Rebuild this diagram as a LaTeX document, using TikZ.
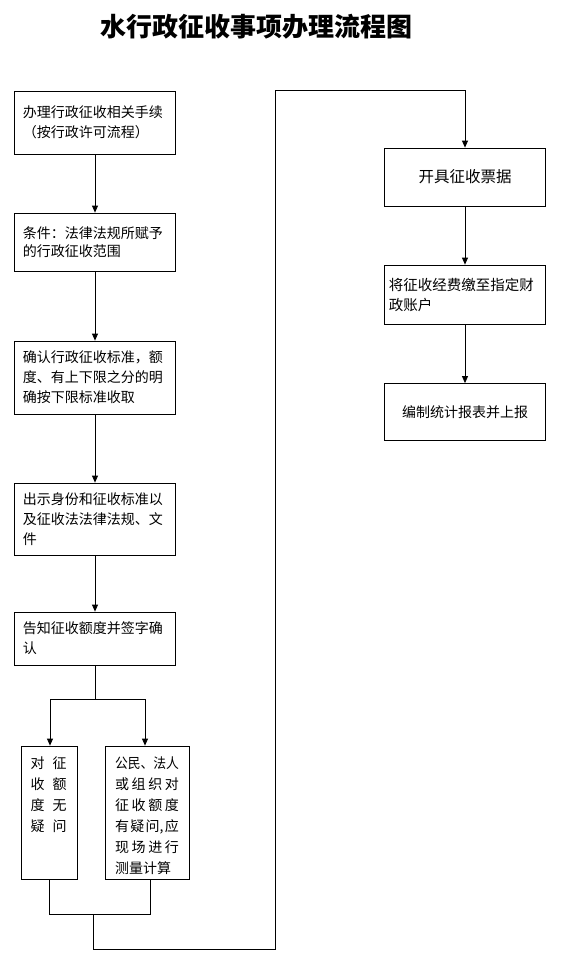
\documentclass[tikz,border=0pt]{standalone}
\usepackage{fontspec}
\usepackage{graphicx}
\setmainfont{Noto Sans CJK SC}
\usetikzlibrary{arrows.meta}
\begin{document}
\begin{tikzpicture}[x=1pt,y=-1pt,line width=0.8pt,
  arr/.style={-{Triangle[length=7pt,width=6pt]}},
  box/.style={draw,line width=0.8pt,inner ysep=0pt,font=\fontsize{14pt}{20pt}\selectfont},
  lbox/.style={box,text width=144pt,inner xsep=8.7pt,align=left},
  rbox/.style={box,minimum width=160.3pt,align=center},
  sbox/.style={draw,line width=0.8pt,inner sep=0pt,font=\fontsize{14pt}{21pt}\selectfont}]
\useasboundingbox (0,0) rectangle (561,959);
\node (title) at (256.5,27) {\fontsize{26pt}{26pt}\selectfont\bfseries 水行政征收事项办理流程图};
% left column
\node[lbox,minimum height=63pt] (b1) at (95,122.5) {办理行政征收相关手续\\（按行政许可流程）};
\node[lbox,minimum height=58pt,font=\fontsize{14pt}{18.5pt}\selectfont] (b2) at (95,242) {条件：法律法规所赋予\\的行政征收范围};
\node[lbox,minimum height=73pt] (b3) at (95,377.5) {确认行政征收标准，额\\度、有上下限之分的明\\确按下限标准收取};
\node[lbox,minimum height=72pt] (b4) at (95,519) {出示身份和征收标准以\\及征收法法律法规、文\\件};
\node[lbox,minimum height=53pt] (b5) at (95,638.5) {告知征收额度并签字确\\认};
% two branches
\node[sbox] (s1) at (49.7,812.5) {\parbox[c][133pt][t]{56pt}{\leftskip=9pt\relax\rule{0pt}{22.3pt}对\hspace{8pt}征\\收\hspace{8pt}额\\度\hspace{8pt}无\\疑\hspace{8pt}问}};
\node[sbox] (s2) at (147.5,812.5) {\parbox[c][133pt][t]{83.6pt}{\leftskip=9.3pt\relax\rule{0pt}{22.3pt}\scalebox{0.914}[1]{公民、法人}\\\makebox[64pt][s]{或\hfill 组\hfill 织\hfill 对}\\\makebox[64pt][s]{征\hfill 收\hfill 额\hfill 度}\\\makebox[64pt][s]{有\hfill 疑\hfill 问,\hfill 应}\\\makebox[64pt][s]{现\hfill 场\hfill 进\hfill 行}\\测量计算}};
% right column
\node[rbox,minimum height=58pt,font=\fontsize{15.5pt}{20pt}\selectfont] (r1) at (465,177) {开具征收票据};
\node[box,minimum height=59pt,text width=152.3pt,inner xsep=4pt,align=left,font=\fontsize{14.5pt}{20pt}\selectfont] (r2) at (465,294.5) {将征收经费缴至指定财\\政账户};
\node[rbox,minimum height=57pt] (r3) at (465,412) {编制统计报表并上报};
% connectors
\draw[arr] (b1.south) -- (b2.north);
\draw[arr] (b2.south) -- (b3.north);
\draw[arr] (b3.south) -- (b4.north);
\draw[arr] (b4.south) -- (b5.north);
\coordinate (jl) at (50,699);
\coordinate (jr) at (145,699);
\draw (b5.south) -- (b5.south |- jl);
\draw (jl) -- (jr);
\draw[arr] (jl) -- (jl |- s1.north);
\draw[arr] (jr) -- (jr |- s2.north);
\coordinate (kl) at (49.3,914);
\coordinate (kr) at (150.3,914);
\coordinate (km) at (93.3,914);
\coordinate (turn) at (275.7,949);
\coordinate (top) at (275.7,90);
\draw (kl |- s1.south) -- (kl) -- (kr) -- (kr |- s2.south);
\draw[arr] (km) -- (km |- turn) -- (turn) -- (top) -| (r1.north);
\draw[arr] (r1.south) -- (r2.north);
\draw[arr] (r2.south) -- (r3.north);
\end{tikzpicture}
\end{document}
